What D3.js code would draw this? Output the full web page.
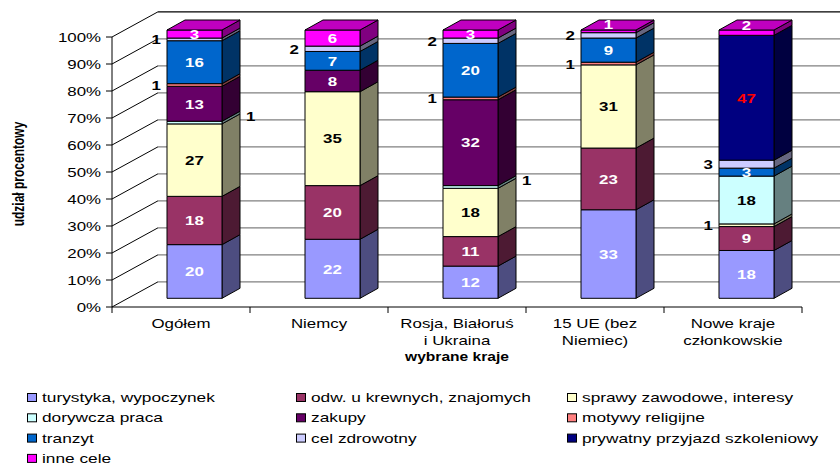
<!DOCTYPE html>
<html>
<head>
<meta charset="utf-8">
<script src="https://cdnjs.cloudflare.com/ajax/libs/d3/7.8.5/d3.min.js"></script>
<style>
  body { margin: 0; background: #fff; }
  svg { display: block; }
  text { font-family: "Liberation Sans", Arial, sans-serif; }
</style>
</head>
<body>
<svg id="chart" width="840" height="466"></svg>
<script>
// ---- data ----------------------------------------------------------------
const categories = ["Ogółem", "Niemcy", "Rosja, Białoruś\ni Ukraina", "15 UE (bez\nNiemiec)", "Nowe kraje\nczłonkowskie"];
const seriesNames = [
  "turystyka, wypoczynek", "odw. u krewnych, znajomych", "sprawy zawodowe, interesy",
  "dorywcza praca", "zakupy", "motywy religijne",
  "tranzyt", "cel zdrowotny", "prywatny przyjazd szkoleniowy",
  "inne cele"
];
const turystyka   = [20, 22, 12, 33, 18];
const odwiedziny  = [18, 20, 11, 23, 9];
const sprawy      = [27, 35, 18, 31, 1];
const dorywcza    = [1, 0, 1, 0, 18];
const zakupy      = [13, 8, 32, 0, 0];
const religijne   = [1, 0, 1, 1, 0];
const tranzyt     = [16, 7, 20, 9, 3];
const zdrowotny   = [1, 2, 2, 2, 3];
const szkoleniowy = [0, 0, 0, 0, 47];
const inne        = [3, 6, 3, 1, 2];
const seriesValues = [turystyka, odwiedziny, sprawy, dorywcza, zakupy, religijne, tranzyt, zdrowotny, szkoleniowy, inne];
const yTickValues = [0, 0.1, 0.2, 0.3, 0.4, 0.5, 0.6, 0.7, 0.8, 0.9, 1];

const seriesColors = ["#9999FF", "#993366", "#FFFFCC", "#CCFFFF", "#660066", "#FF8080", "#0066CC", "#CCCCFF", "#000080", "#FF00FF"];
const valueColors  = ["#FFFFFF", "#FFFFFF", "#000000", "#000000", "#FFFFFF", "#000000", "#FFFFFF", "#000000", "#FF0000", "#FFFFFF"];

// ---- geometry ------------------------------------------------------------
const svg = d3.select("#chart");
svg.append("rect").attr("width", 840).attr("height", 466).attr("fill", "#fff");

const SX = 1.3;                       // horizontal stretch of the lettering
const SX_AXIS = 1.35;
const SX_LEGEND = 1.33;
const WALL_DX = 46, WALL_DY = -25.2;  // depth of the 3D box
const BAR_DX = 18, BAR_DY = -10;      // depth of each column
const BAR_W = 55;

const yAxis = d3.scaleLinear().domain([0, 1]).range([307, 37]);   // front plane of the box
const yBar  = d3.scaleLinear().domain([0, 1]).range([298.3, 30]); // front plane of the columns
const xBand = d3.scaleBand().domain(categories).range([112, 802]).padding(0);

function stretchedText(sel, x, y, sx) {
  return sel.attr("transform", `translate(${x},${y}) scale(${sx},1)`);
}

// ---- walls ---------------------------------------------------------------
const walls = svg.append("g");
yTickValues.forEach(v => {
  const yf = yAxis(v), yb = yf + WALL_DY;
  walls.append("line")
    .attr("x1", 112 + WALL_DX).attr("x2", 860).attr("y1", yb).attr("y2", yb)
    .attr("stroke", v === 1 ? "#000" : "#808080").attr("stroke-width", v === 1 ? 1.2 : 1.3);
  walls.append("line")
    .attr("x1", 112).attr("y1", yf).attr("x2", 112 + WALL_DX).attr("y2", yb)
    .attr("stroke", "#000").attr("stroke-width", 1);
});

// value axis
const yAxisG = svg.append("g");
yAxisG.append("line").attr("x1", 112).attr("x2", 112).attr("y1", yAxis(1)).attr("y2", yAxis(0))
  .attr("stroke", "#000");
yTickValues.forEach(v => {
  yAxisG.append("line").attr("x1", 106).attr("x2", 112).attr("y1", yAxis(v)).attr("y2", yAxis(v))
    .attr("stroke", "#000");
  stretchedText(yAxisG.append("text"), 101, yAxis(v) + 4.5, SX_AXIS)
    .attr("text-anchor", "end").attr("font-size", 12.5).attr("fill", "#000")
    .text(d3.format(".0%")(v));
});

// category axis (front floor edge)
const xAxisG = svg.append("g");
xAxisG.append("line").attr("x1", 112).attr("x2", 802).attr("y1", yAxis(0)).attr("y2", yAxis(0))
  .attr("stroke", "#000");
categories.forEach((c, i) => {
  const bx = xBand(c);
  xAxisG.append("line").attr("x1", bx).attr("x2", bx).attr("y1", yAxis(0)).attr("y2", yAxis(0) + 6)
    .attr("stroke", "#000");
  if (i === categories.length - 1) {
    const ex = bx + xBand.bandwidth();
    xAxisG.append("line").attr("x1", ex).attr("x2", ex).attr("y1", yAxis(0)).attr("y2", yAxis(0) + 6)
      .attr("stroke", "#000");
  }
  c.split("\n").forEach((line, k) => {
    stretchedText(xAxisG.append("text"), bx + xBand.bandwidth() / 2, 327.5 + k * 17, SX_AXIS)
      .attr("text-anchor", "middle").attr("font-size", 12.5).attr("fill", "#000").text(line);
  });
});

// axis titles
stretchedText(svg.append("text"), 457, 361, SX)
  .attr("text-anchor", "middle").attr("font-size", 12).attr("font-weight", "bold").text("wybrane kraje");
svg.append("text")
  .attr("transform", `translate(24,174) scale(${SX},1) rotate(-90)`)
  .attr("text-anchor", "middle").attr("font-size", 12).attr("font-weight", "bold").text("udział procentowy");

// ---- stacked columns -----------------------------------------------------
const keys = seriesNames.map((_, j) => "s" + j);
const rows = categories.map((c, i) => {
  const r = { cat: c };
  keys.forEach((k, j) => { r[k] = seriesValues[j][i]; });
  return r;
});
const stacked = d3.stack().keys(keys).offset(d3.stackOffsetExpand)(rows);

const shade = (c, f) => { const q = d3.rgb(c); return d3.rgb(q.r * f, q.g * f, q.b * f).formatHex(); };
const bars = svg.append("g");
const labels = svg.append("g");

categories.forEach((c, i) => {
  const x0 = xBand(c) + 55, x1 = x0 + BAR_W;
  let topIdx = -1;
  keys.forEach((k, j) => { if (seriesValues[j][i] > 0) topIdx = j; });

  stacked.forEach((layer, j) => {
    const v = seriesValues[j][i];
    if (!v) return;
    const d = layer[i];
    const yb = yBar(d[0]), yt = yBar(d[1]);
    const col = seriesColors[j];
    const g = bars.append("g").attr("stroke", "#000").attr("stroke-width", 1).attr("stroke-linejoin", "round");
    g.append("polygon")
      .attr("points", [[x1, yb], [x1 + BAR_DX, yb + BAR_DY], [x1 + BAR_DX, yt + BAR_DY], [x1, yt]].join(" "))
      .attr("fill", shade(col, 0.5));
    g.append("rect").attr("x", x0).attr("y", yt).attr("width", BAR_W).attr("height", yb - yt)
      .attr("fill", col);
    if (j === topIdx) {
      g.append("polygon")
        .attr("points", [[x0, yt], [x1, yt], [x1 + BAR_DX, yt + BAR_DY], [x0 + BAR_DX, yt + BAR_DY]].join(" "))
        .attr("fill", shade(col, 0.75));
    }

    // value label
    const yc = (yb + yt) / 2;
    const outside = j !== 9 && (j === 7 || v <= 1);
    const t = labels.append("text").attr("font-size", 13).attr("font-weight", "bold").text(v);
    if (outside && j === 3) {
      stretchedText(t, x1 + BAR_DX + 6, yc - 1.5, SX).attr("text-anchor", "start").attr("fill", "#000");
    } else if (outside) {
      stretchedText(t, x0 - 6, yc + 5, SX).attr("text-anchor", "end").attr("fill", "#000");
    } else {
      const lift = (j === 9 && v < 3) ? -7.5 : 0;
      stretchedText(t, (x0 + x1) / 2, yc + 4.8 + lift, SX).attr("text-anchor", "middle").attr("fill", valueColors[j]);
    }
  });
});

// ---- legend --------------------------------------------------------------
const legend = svg.append("g");
const legendCols = [27, 296, 567];
seriesNames.forEach((name, j) => {
  const lx = legendCols[j % 3], ly = 397.5 + Math.floor(j / 3) * 20.3;
  legend.append("rect").attr("x", lx + 0.5).attr("y", ly - 4).attr("width", 9).attr("height", 8)
    .attr("fill", seriesColors[j]).attr("stroke", "#000").attr("stroke-width", 1);
  stretchedText(legend.append("text"), lx + 15, ly + 4.5, SX_LEGEND)
    .attr("font-size", 13).attr("fill", "#000").text(name);
});
</script>
</body>
</html>
